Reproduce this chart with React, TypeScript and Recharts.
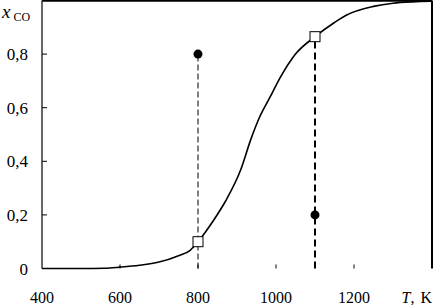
import {
  ComposedChart,
  Line,
  ReferenceLine,
  Scatter,
  XAxis,
  YAxis,
} from "recharts";

// CO conversion vs temperature
const temps = [400, 500, 560, 600, 650, 700, 750, 780, 800, 840, 870, 910, 935, 955, 985, 1010, 1050, 1100, 1150, 1180, 1250, 1300, 1350, 1400];
const xco = [0, 0, 0.001, 0.005, 0.012, 0.024, 0.048, 0.068, 0.1, 0.18, 0.25, 0.37, 0.48, 0.555, 0.64, 0.71, 0.8, 0.865, 0.918, 0.945, 0.978, 0.99, 0.995, 0.997];

// marked points
const markTemps = [800, 1100];
const openValues = [0.1, 0.865];
const filledValues = [0.8, 0.2];

const xTicks = [400, 600, 800, 1000, 1200, 1400];
const xTickLabels = ["400", "600", "800", "1000", "1200", ""];
const yTicks = [0, 0.2, 0.4, 0.6, 0.8, 1];
const yTickLabels = ["0", "0,2", "0,4", "0,6", "0,8", ""];

const curve = temps.map((T, i) => ({ T, y: xco[i] }));
const openPts = markTemps.map((T, i) => ({ T, y: openValues[i] }));
const filledPts = markTemps.map((T, i) => ({ T, y: filledValues[i] }));

const FONT = '"Liberation Serif", "Times New Roman", serif';

function XTick({ x, y, payload }: any) {
  const i = xTicks.indexOf(payload.value);
  const last = payload.value === 1400;
  return (
    <g>
      {!last && payload.value !== 400 && (
        <line x1={x} x2={x} y1={y} y2={y - 4} stroke="#000" strokeWidth={1} />
      )}
      {last ? (
        <text x={x} y={y + 34} textAnchor="end" fontFamily={FONT} fontSize={16} fill="#000">
          <tspan fontStyle="italic">T</tspan>,<tspan dx={6}>K</tspan>
        </text>
      ) : (
        <text x={x} y={y + 34} textAnchor="middle" fontFamily={FONT} fontSize={16} fill="#000">
          {xTickLabels[i]}
        </text>
      )}
    </g>
  );
}

function YTick({ x, y, payload }: any) {
  const i = yTicks.indexOf(payload.value);
  if (payload.value === 1) {
    return (
      <text x={2} y={y + 17.5} fontFamily={FONT} fill="#000">
        <tspan fontSize={19} fontStyle="italic">x</tspan>
        <tspan fontSize={12} dx={3} dy={3}>CO</tspan>
      </text>
    );
  }
  return (
    <g>
      <line x1={x} x2={x + 5} y1={y} y2={y} stroke="#000" strokeWidth={1} />
      <text x={x - 14} y={y + 6} textAnchor="end" fontFamily={FONT} fontSize={17} fill="#000">
        {yTickLabels[i]}
      </text>
    </g>
  );
}

function OpenSquare({ cx, cy }: any) {
  if (cx == null || cy == null) return <g />;
  return <rect x={cx - 5} y={cy - 5} width={10} height={10} fill="#fff" stroke="#000" strokeWidth={1} />;
}

function Dot({ cx, cy }: any) {
  if (cx == null || cy == null) return <g />;
  return <circle cx={cx} cy={cy} r={4.5} fill="#000" />;
}

export default function App() {
  return (
    <div style={{ position: "absolute", left: 0, top: 0, background: "#fff" }}>
      <ComposedChart
        width={433}
        height={305}
        data={curve}
        margin={{ top: 0.5, right: 1, bottom: 0, left: 0 }}
      >
        <XAxis
          type="number"
          dataKey="T"
          domain={[400, 1400]}
          ticks={xTicks}
          height={36.5}
          axisLine={false}
          tickLine={false}
          tickSize={0}
          tickMargin={0}
          tick={<XTick />}
          interval={0}
        />
        <YAxis
          type="number"
          domain={[0, 1]}
          ticks={yTicks}
          width={42}
          axisLine={{ stroke: "#000", strokeWidth: 1.2 }}
          tickLine={false}
          tickSize={0}
          tickMargin={0}
          tick={<YTick />}
          interval={0}
        />
        <ReferenceLine y={1} stroke="#000" strokeWidth={2.5} />
        <ReferenceLine x={1400} stroke="#000" strokeWidth={2} />
        <ReferenceLine
          segment={[{ x: markTemps[0], y: 0 }, { x: markTemps[0], y: filledValues[0] }]}
          stroke="#000"
          strokeWidth={1}
          strokeDasharray="6 3"
        />
        <ReferenceLine
          segment={[{ x: markTemps[1], y: 0 }, { x: markTemps[1], y: openValues[1] }]}
          stroke="#000"
          strokeWidth={2}
          strokeDasharray="7 4"
        />
        <Line
          type="monotone"
          dataKey="y"
          stroke="#000"
          strokeWidth={1.6}
          dot={false}
          isAnimationActive={false}
        />
        <Scatter data={openPts} dataKey="y" shape={<OpenSquare />} isAnimationActive={false} />
        <Scatter data={filledPts} dataKey="y" shape={<Dot />} isAnimationActive={false} />
      </ComposedChart>
    </div>
  );
}
